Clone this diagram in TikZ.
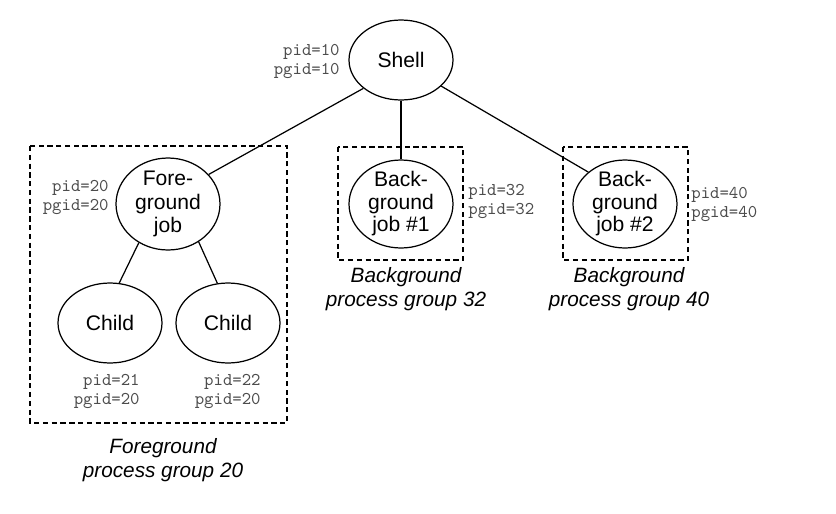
\documentclass[tikz,border=0pt]{standalone}
\usepackage{fontspec}
\setmainfont{Liberation Sans}
\usetikzlibrary{shapes.geometric}
\tikzset{
	proc/.style={ellipse, draw, line width=0.7pt, inner xsep=0pt, inner ysep=-3pt, minimum width=2.08cm, minimum height=1.6cm, align=center, font=\fontsize{12}{12.8}\selectfont},
	ids/.style={align=right, inner sep=0pt, text=black!70, font=\ttfamily\fontsize{10.2}{10.8}\selectfont},
	grp/.style={draw, line width=0.6pt, dash pattern=on 3pt off 2pt},
	grouptitle/.style={align=center, inner sep=0pt, font=\itshape\fontsize{11.8}{13.4}\selectfont},
	link/.style={line width=0.7pt}
}

\begin{document}
\begin{tikzpicture}[x=0.02cm, y=-0.02cm]
		%%%%% START %%%%%
		\useasboundingbox (0, 0) rectangle (836, 514);
		
		\draw[grp] (30, 146) rectangle (287, 423);
		\draw[grp] (338, 147) rectangle (463, 260);
		\draw[grp] (563, 147) rectangle (688, 260);
		
		\node[proc] (shell) at (401, 60) {Shell};
		\node[proc, minimum height=1.84cm, font=\fontsize{12}{13.6}\selectfont] (fg) at (168, 204) {Fore-\\ground\\job};
		\node[proc] (child1) at (110, 323) {Child};
		\node[proc] (child2) at (228, 323) {Child};
		\node[proc, minimum height=1.76cm] (bg1) at (401, 204) {Back-\\ground\\job \#1};
		\node[proc, minimum height=1.76cm] (bg2) at (625, 204) {Back-\\ground\\job \#2};
		
		\draw[link] (shell.217) -- (fg.36);
		\draw[link] (shell) -- (bg1);
		\draw[link] (shell.327) -- (bg2.139);
		\draw[link] (fg.233) -- (child1.77);
		\draw[link] (fg.309) -- (child2.105);
		
		\node[ids, anchor=east] (shellid) at (340, 61) {pid=10\\pgid=10};
		\node[ids, anchor=east] (fgid) at (109, 197) {pid=20\\pgid=20};
		\node[ids, anchor=east] (child1id) at (140, 391) {pid=21\\pgid=20};
		\node[ids, anchor=east] (child2id) at (261, 391) {pid=22\\pgid=20};
		\node[ids, align=left, anchor=west] (bg1id) at (468, 201) {pid=32\\pgid=32};
		\node[ids, align=left, anchor=west] (bg2id) at (691, 204) {pid=40\\pgid=40};
		
		\node[grouptitle] (fgtitle) at (163, 460) {Foreground\\process group 20};
		\node[grouptitle] (bg1title) at (406, 289) {Background\\process group 32};
		\node[grouptitle] (bg2title) at (629, 289) {Background\\process group 40};
		
		%%%%% END %%%%%
\end{tikzpicture}
\end{document}
